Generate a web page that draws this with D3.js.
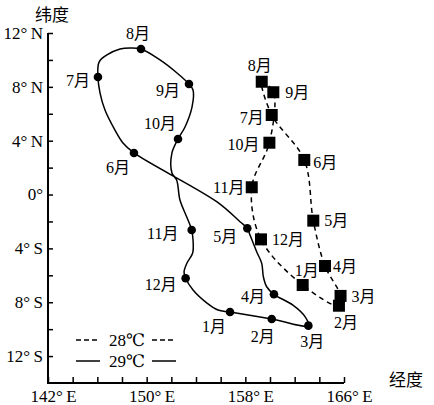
<!DOCTYPE html>
<html><head><meta charset="utf-8">
<script src="https://cdn.jsdelivr.net/npm/d3@7"></script>
<style>body{margin:0;background:#fff}svg{display:block}</style>
</head><body><svg id="c" width="434" height="405"></svg>
<script>
// ---- data ----
const months = ["1月","2月","3月","4月","5月","6月","7月","8月","9月","10月","11月","12月"];
// 29°C isotherm position by month (lon °E, lat °)
const lon29 = [156.76,160.14,163.11,160.32,158.16,148.97,146.05,149.54,153.43,152.54,153.65,153.16];
const lat29 = [-8.73,-9.25,-9.74,-7.41,-2.51,3.09,8.73,10.81,8.21,4.13,-2.63,-6.22];
// 28°C isotherm position by month
const lon28 = [162.65,165.59,165.72,164.46,163.51,162.78,160.14,159.33,160.27,159.95,158.52,159.27];
const lat28 = [-6.72,-8.26,-7.53,-5.31,-1.94,2.57,5.91,8.38,7.60,3.85,0.54,-3.33];
// traced course of the 29°C curve (lon, lat), starting at June
const trace29Lon = [148.97,148.08,147.43,146.62,146.22,146.05,146.14,146.78,147.84,148.65,149.54,151.08,152.46,153.43,153.76,153.68,153.11,152.54,152.05,152.05,152.43,152.70,153.24,153.65,153.76,153.73,153.27,153.03,153.16,153.76,154.89,155.78,156.76,160.14,163.11,162.84,161.86,160.32,159.73,159.46,159.33,158.92,158.38,158.16,157.57,155.68];
const trace29Lat = [3.09,3.83,4.79,6.28,7.54,8.73,9.84,10.37,10.81,10.89,10.81,10.0,9.03,8.21,7.77,6.51,5.02,4.13,3.09,1.60,1.08,-0.41,-1.65,-2.63,-3.38,-4.34,-5.09,-5.76,-6.22,-7.09,-8.06,-8.58,-8.73,-9.25,-9.74,-9.07,-8.21,-7.41,-6.85,-6.10,-5.11,-4.25,-3.01,-2.51,-2.02,-0.53];
const xTicks = [142,144,146,148,150,152,154,156,158,160,162,164,166];
const xLabels = [142,150,158,166];
const yTicks = [-12,-10,-8,-6,-4,-2,0,2,4,6,8,10,12];
const yLabels = [-12,-8,-4,0,4,8,12];
const legendNames = ["28℃","29℃"];
const axisTitles = {x:"经度", y:"纬度"};

// ---- layout ----
const FONT = "'Liberation Serif','Times New Roman',Times,'DejaVu Serif','Noto Sans CJK SC',serif";
const svg = d3.select("#c");
const x = d3.scaleLinear().domain([142,166]).range([48,344]);
const y = d3.scaleLinear().domain([-14,12]).range([383,33]);

// axes
const yAxis = d3.axisLeft(y).tickValues(yTicks).tickSize(-5).tickSizeOuter(0).tickPadding(5)
  .tickFormat(d => yLabels.includes(d) ? (d===0 ? "0°" : (d>0 ? d+"°\u2009N" : (-d)+"°\u2009S")) : "");
const gy = svg.append("g").attr("transform","translate(48,0)").call(yAxis);
gy.attr("font-family",null).attr("font-size",null);
gy.select(".domain").attr("stroke-width",2).attr("d","M0,33V383");
gy.selectAll(".tick line").attr("stroke-width",1.5);
gy.selectAll("text").style("font-family",FONT).style("font-size","17px").attr("fill","#000");

const xAxis = d3.axisBottom(x).tickValues(xTicks).tickSize(-6).tickSizeOuter(0).tickPadding(7)
  .tickFormat(d => xLabels.includes(d) ? d+"°\u2009E" : "");
const gx = svg.append("g").attr("transform","translate(0,383)").call(xAxis);
gx.attr("font-family",null).attr("font-size",null);
gx.select(".domain").attr("stroke-width",2).attr("d","M47,0H344");
gx.selectAll(".tick line").attr("stroke-width",1.5);
gx.selectAll("text").style("font-family",FONT).style("font-size","17px").attr("fill","#000").attr("dx",5);

svg.append("text").attr("x",52).attr("y",21).attr("text-anchor","middle")
  .style("font-family",FONT).style("font-size","17px").text(axisTitles.y);
svg.append("text").attr("x",406).attr("y",386).attr("text-anchor","middle")
  .style("font-family",FONT).style("font-size","17px").text(axisTitles.x);

// 29°C curve
const trace29 = trace29Lon.map((d,i)=>[d,trace29Lat[i]]);
const line = d3.line().x(d=>x(d[0])).y(d=>y(d[1])).curve(d3.curveCatmullRomClosed.alpha(0.5));
svg.append("path").attr("d",line(trace29)).attr("fill","none").attr("stroke","#000").attr("stroke-width",1.5);

// 28°C curve
const pts28 = months.map((m,i)=>[lon28[i],lat28[i]]);
svg.append("path").attr("d",line(pts28)).attr("fill","none").attr("stroke","#000")
  .attr("stroke-width",1.5).attr("stroke-dasharray","5,4");

// markers
const pts29 = months.map((m,i)=>({m,lon:lon29[i],lat:lat29[i]}));
svg.selectAll("circle.m29").data(pts29).join("circle").attr("class","m29")
  .attr("cx",d=>x(d.lon)).attr("cy",d=>y(d.lat)).attr("r",4.3).attr("fill","#000");
const p28 = months.map((m,i)=>({m,lon:lon28[i],lat:lat28[i]}));
svg.selectAll("rect.m28").data(p28).join("rect").attr("class","m28")
  .attr("x",d=>x(d.lon)-6).attr("y",d=>y(d.lat)-6).attr("width",12).attr("height",12).attr("fill","#000");

// month labels: offsets in px from the marker (label centre)
const off29 = {"1月":[-16,14],"2月":[-9,17],"3月":[4,16],"4月":[-21,2],"5月":[-22,8],"6月":[-16,14],
  "7月":[-20,3],"8月":[-3,-16],"9月":[-21,6],"10月":[-18,-16],"11月":[-29,3],"12月":[-25,6]};
const off28 = {"1月":[4,-15],"2月":[7,17],"3月":[23,0],"4月":[20,0],"5月":[23,0],"6月":[21,2],
  "7月":[-20,2],"8月":[-2,-16],"9月":[24,0],"10月":[-26,2],"11月":[-23,0],"12月":[27,0]};
function labels(data, off){
  svg.append("g").selectAll("text").data(data).join("text")
    .attr("x",d=>x(d.lon)+off[d.m][0]).attr("y",d=>y(d.lat)+off[d.m][1])
    .attr("dy","0.36em").attr("text-anchor","middle")
    .style("font-family",FONT).style("font-size","16px").text(d=>d.m);
}
labels(pts29, off29);
labels(p28, off28);

// legend
const lg = svg.append("g");
legendNames.forEach((name,i)=>{
  const yy = 340 + i*21;
  const dash = i===0 ? "5,3" : null;
  [[76,100],[152,176]].forEach(([a,b])=>{
    lg.append("line").attr("x1",a).attr("x2",b).attr("y1",yy).attr("y2",yy)
      .attr("stroke","#000").attr("stroke-width",1.5).attr("stroke-dasharray",dash);
  });
  lg.append("text").attr("x",127).attr("y",yy).attr("dy","0.36em").attr("text-anchor","middle")
    .style("font-family",FONT).style("font-size","17px").text(name);
});
</script></body></html>
